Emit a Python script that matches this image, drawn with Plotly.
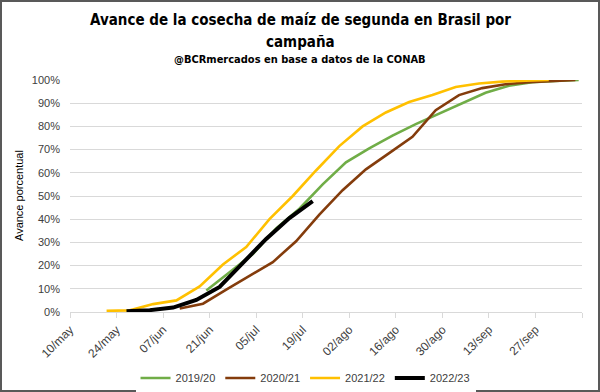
import plotly.graph_objects as go

# ---- data ----
dates_1920 = ["2023-06-20", "2023-06-27", "2023-07-04", "2023-07-11", "2023-07-18", "2023-07-25",
              "2023-08-01", "2023-08-08", "2023-08-15", "2023-08-22", "2023-08-29", "2023-09-05",
              "2023-09-12", "2023-09-19", "2023-09-26", "2023-10-03", "2023-10-10"]
vals_1920 = [9.3, 17, 25, 36, 44.5, 55, 64.5, 70.5, 76, 81, 85.5, 90, 94.5, 97.5, 99, 99.6, 100]

dates_2021 = ["2023-06-12", "2023-06-19", "2023-06-26", "2023-07-03", "2023-07-10", "2023-07-17",
              "2023-07-24", "2023-07-31", "2023-08-07", "2023-08-14", "2023-08-21", "2023-08-28",
              "2023-09-04", "2023-09-11", "2023-09-18", "2023-09-25", "2023-10-02", "2023-10-09"]
vals_2021 = [1.5, 3.6, 9.6, 15.6, 21.5, 30.5, 42, 52.5, 61.5, 68.5, 75.5, 87, 93.5, 96.5, 98.2, 99, 99.6, 100]

dates_2122 = ["2023-05-21", "2023-05-28", "2023-06-04", "2023-06-11", "2023-06-18", "2023-06-25",
              "2023-07-02", "2023-07-09", "2023-07-16", "2023-07-23", "2023-07-30", "2023-08-06",
              "2023-08-13", "2023-08-20", "2023-08-27", "2023-09-03", "2023-09-10", "2023-09-17",
              "2023-09-24", "2023-10-01"]
vals_2122 = [0.5, 0.7, 3.4, 5.0, 11, 20.5, 28, 40, 50, 61, 71.5, 80, 86, 90.5, 93.5, 97, 98.5, 99.3, 99.7, 100]

dates_2223 = ["2023-05-27", "2023-06-03", "2023-06-10", "2023-06-17", "2023-06-24", "2023-07-01",
              "2023-07-08", "2023-07-15", "2023-07-22"]
vals_2223 = [0.3, 0.8, 1.9, 5.2, 10.8, 21, 31.5, 40.5, 47.8]

series_names = ["2019/20", "2020/21", "2021/22", "2022/23"]

tick_dates = ["2023-05-10", "2023-05-24", "2023-06-07", "2023-06-21", "2023-07-05", "2023-07-19",
              "2023-08-02", "2023-08-16", "2023-08-30", "2023-09-13", "2023-09-27", "2023-10-11"]
tick_labels = ["10/may", "24/may", "07/jun", "21/jun", "05/jul", "19/jul",
               "02/ago", "16/ago", "30/ago", "13/sep", "27/sep", ""]

y_ticks = [0, 10, 20, 30, 40, 50, 60, 70, 80, 90, 100]
y_labels = [f"{v}%" for v in y_ticks]

# ---- figure ----
colors = ["#70AD47", "#843C0C", "#FFC000", "#000000"]
widths = [2.6, 2.6, 2.6, 4.0]
all_dates = [dates_1920, dates_2021, dates_2122, dates_2223]
all_vals = [vals_1920, vals_2021, vals_2122, vals_2223]

fig = go.Figure()
for name, d, v, c, w in zip(series_names, all_dates, all_vals, colors, widths):
    fig.add_trace(go.Scatter(x=d, y=v, mode="lines", name=name,
                             line=dict(color=c, width=w), hoverinfo="skip"))

W, H = 600, 392
L, R, T, B = 70, 18, 80, 80
pw, ph = W - L - R, H - T - B

def px_x(x):
    return (x - L) / pw

def px_y(y):
    return (H - B - y) / ph

title_font = "DejaVu Sans Condensed, Liberation Sans Narrow, Arial Narrow, sans-serif"
body_font = "Liberation Sans, Arial, sans-serif"

fig.update_layout(
    width=W, height=H,
    margin=dict(l=L, r=R, t=T, b=B, autoexpand=False),
    paper_bgcolor="white", plot_bgcolor="white",
    font=dict(family=body_font, size=11, color="#595959"),
    showlegend=True,
    legend=dict(orientation="h", x=0.46, xanchor="center", y=px_y(378), yanchor="middle",
                font=dict(size=11, color="#404040"), itemwidth=30, traceorder="normal",
                tracegroupgap=0),
    xaxis=dict(type="date", range=["2023-05-10", "2023-10-11"], automargin=False,
               tickmode="array", tickvals=tick_dates, ticktext=tick_labels,
               tickangle=-45, ticks="outside", ticklen=5, tickcolor="#D9D9D9",
               showline=True, linecolor="#D9D9D9", linewidth=1,
               showgrid=False, zeroline=False,
               tickfont=dict(size=12, color="#404040")),
    yaxis=dict(range=[0, 100], tickmode="array", tickvals=y_ticks, ticktext=y_labels,
               automargin=False,
               showgrid=True, gridcolor="#D9D9D9", gridwidth=1,
               zeroline=False, showline=False, ticks="",
               ticklabelstandoff=9,
               tickfont=dict(size=11, color="#404040")),
)

fig.add_annotation(text="<b>Avance de la cosecha de maíz de segunda en Brasil por</b>",
                   xref="paper", yref="paper", x=px_x(300), y=px_y(20),
                   xanchor="center", yanchor="middle", showarrow=False,
                   font=dict(family=title_font, size=15, color="#000000"))
fig.add_annotation(text="<b>campaña</b>",
                   xref="paper", yref="paper", x=px_x(300), y=px_y(42),
                   xanchor="center", yanchor="middle", showarrow=False,
                   font=dict(family=title_font, size=15, color="#000000"))
fig.add_annotation(text="<b>@BCRmercados en base a datos de la CONAB</b>",
                   xref="paper", yref="paper", x=px_x(300), y=px_y(60),
                   xanchor="center", yanchor="middle", showarrow=False,
                   font=dict(family=title_font, size=11, color="#000000"))
fig.add_annotation(text="Avance porcentual", textangle=-90,
                   xref="paper", yref="paper", x=px_x(19), y=px_y(196),
                   xanchor="center", yanchor="middle", showarrow=False,
                   font=dict(family=body_font, size=11, color="#000000"))

# outer border
fig.add_shape(type="rect", xref="paper", yref="paper",
              x0=px_x(1), x1=px_x(599), y0=px_y(391), y1=px_y(1),
              line=dict(color="#595959", width=2), fillcolor="rgba(0,0,0,0)", layer="above")

fig.write_html("out.html", config={"displayModeBar": False},
               post_script="document.body.style.margin='0';document.body.style.overflow='hidden';")
